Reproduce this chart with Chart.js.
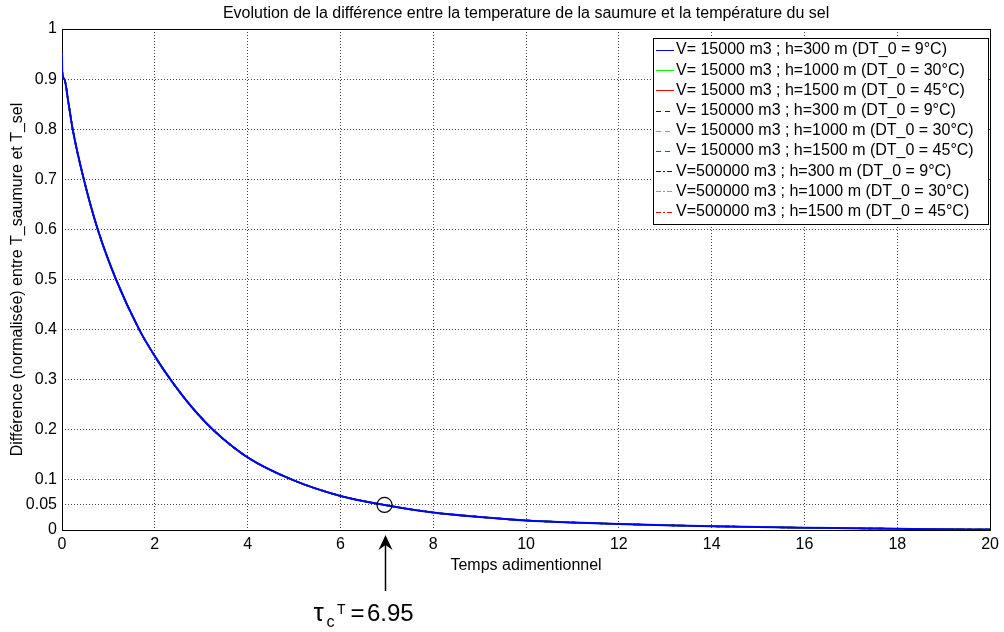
<!DOCTYPE html>
<html>
<head>
<meta charset="utf-8">
<script src="https://cdn.jsdelivr.net/npm/chart.js@4/dist/chart.umd.min.js"></script>
<style>
  html, body { margin: 0; padding: 0; background: #fff; }
  #wrap { width: 1004px; height: 632px; position: relative; }
</style>
</head>
<body>
<div id="wrap"><canvas id="c" width="1004" height="632"></canvas></div>
<script>
// Dimensionless time and normalised brine/salt temperature difference
const tempsAdim = [0, 0.005, 0.05, 0.14, 0.23, 0.47, 0.77, 1.165, 1.665, 2.0, 2.34, 2.8, 3.29, 4.0, 4.97, 6.0, 6.95, 8, 9, 10, 11, 12, 13, 14, 15, 16, 17, 18, 19, 20];
const ecartNorm = [0.952, 0.915, 0.9, 0.852, 0.8, 0.7, 0.6, 0.5, 0.4, 0.347, 0.3, 0.245, 0.197, 0.145, 0.1, 0.068, 0.05, 0.035, 0.026, 0.019, 0.015, 0.012, 0.0095, 0.0075, 0.006, 0.0045, 0.0035, 0.0025, 0.0015, 0.001];

const xTicks = [0, 2, 4, 6, 8, 10, 12, 14, 16, 18, 20];
const yTicks = [0, 0.05, 0.1, 0.2, 0.3, 0.4, 0.5, 0.6, 0.7, 0.8, 0.9, 1];

const serieLabels = [
  'V= 15000 m3 ; h=300 m (DT_0 = 9°C)',
  'V= 15000 m3 ; h=1000 m (DT_0 = 30°C)',
  'V= 15000 m3 ; h=1500 m (DT_0 = 45°C)',
  'V= 150000 m3 ; h=300 m (DT_0 = 9°C)',
  'V= 150000 m3 ; h=1000 m (DT_0 = 30°C)',
  'V= 150000 m3 ; h=1500 m (DT_0 = 45°C)',
  'V=500000 m3 ; h=300 m (DT_0 = 9°C)',
  'V=500000 m3 ; h=1000 m (DT_0 = 30°C)',
  'V=500000 m3 ; h=1500 m (DT_0 = 45°C)'
];
const serieColors = ['#0000ff', '#00ff00', '#ff0000', '#0000ff', '#00ff00', '#ff0000', '#0000ff', '#00ff00', '#ff0000'];
const serieDashes = [[], [], [], [5, 4], [5, 4], [5, 4], [5, 2, 2, 2], [5, 2, 2, 2], [5, 2, 2, 2]];

const tauC = 6.95;
const tauEcart = 0.05;

const titre = 'Evolution de la différence entre la temperature de la saumure et la température du sel';
const titreX = 'Temps adimentionnel';
const titreY = 'Différence (normalisée) entre T_saumure et T_sel';

const FONT = '"Liberation Sans", Arial, sans-serif';

const points = tempsAdim.map((t, i) => ({ x: t, y: ecartNorm[i] }));

const datasets = serieLabels.map((lab, i) => ({
  label: lab,
  data: points,
  borderColor: serieColors[i],
  borderDash: serieDashes[i],
  borderWidth: i === 0 ? 2 : 1.5,
  pointRadius: 0,
  fill: false,
  cubicInterpolationMode: 'monotone'
}));

// legend sample: dashes painted as short rectangles
function sampleLine(ctx, x0, x1, y, color, dash) {
  ctx.fillStyle = color;
  if (!dash.length) { ctx.fillRect(x0, y, x1 - x0, 1); return; }
  let x = x0, k = 0;
  while (x < x1) {
    const len = dash[k % dash.length];
    if (k % 2 === 0) ctx.fillRect(x, y, Math.min(len, x1 - x), 1);
    x += len;
    k++;
  }
}

// Frame, titles, legend box and the tau annotation
const decor = {
  id: 'decor',
  beforeDatasetsDraw(chart) {
    const { ctx, chartArea: a } = chart;
    ctx.save();
    ctx.strokeStyle = '#000';
    ctx.lineWidth = 1;
    ctx.setLineDash([]);
    ctx.strokeRect(Math.round(a.left) + 0.5, Math.round(a.top) + 0.5, Math.round(a.right - a.left), Math.round(a.bottom - a.top));
    ctx.restore();
  },
  afterDraw(chart) {
    const { ctx, chartArea: a, scales } = chart;
    ctx.save();
    ctx.setLineDash([]);
    ctx.fillStyle = '#000';

    // title
    ctx.font = '16px ' + FONT;
    ctx.textAlign = 'center';
    ctx.textBaseline = 'middle';
    ctx.fillText(titre, (a.left + a.right) / 2, 14);

    // x axis title
    ctx.fillText(titreX, (a.left + a.right) / 2, 566);

    // y axis title
    ctx.save();
    ctx.translate(18, (a.top + a.bottom) / 2);
    ctx.rotate(-Math.PI / 2);
    ctx.fillText(titreY, 0, 0);
    ctx.restore();

    // legend
    const lx = 653, ly = 38, lw = 335, lh = 186;
    ctx.fillStyle = '#fff';
    ctx.fillRect(lx, ly, lw, lh);
    ctx.strokeStyle = '#000';
    ctx.lineWidth = 1;
    ctx.strokeRect(lx + 0.5, ly + 0.5, lw, lh);
    ctx.font = '16px ' + FONT;
    ctx.textAlign = 'left';
    ctx.textBaseline = 'middle';
    serieLabels.forEach((lab, i) => {
      const y = 50 + i * 20.2;
      sampleLine(ctx, 656, 674, Math.round(y), serieColors[i], serieDashes[i]);
      ctx.fillStyle = '#000';
      ctx.fillText(lab, 676, y);
    });

    // marker on the curve at tau_c
    const px = scales.x.getPixelForValue(tauC);
    const py = scales.y.getPixelForValue(tauEcart);
    ctx.strokeStyle = '#000';
    ctx.lineWidth = 1.2;
    ctx.beginPath();
    ctx.arc(px, py, 7.5, 0, Math.PI * 2);
    ctx.stroke();

    // arrow pointing up to the axis
    const ax = Math.round(px) + 0.5;
    ctx.lineWidth = 1.5;
    ctx.beginPath();
    ctx.moveTo(ax, 591);
    ctx.lineTo(ax, 545);
    ctx.stroke();
    ctx.fillStyle = '#000';
    ctx.beginPath();
    ctx.moveTo(ax, 535);
    ctx.lineTo(ax - 7, 550);
    ctx.lineTo(ax, 545);
    ctx.lineTo(ax + 7, 550);
    ctx.closePath();
    ctx.fill();

    // tau_c^T = 6.95
    ctx.textAlign = 'left';
    ctx.textBaseline = 'alphabetic';
    ctx.font = '26px ' + FONT;
    ctx.fillText('τ', ax - 72, 621);
    ctx.font = '16px ' + FONT;
    ctx.fillText('c', ax - 59, 627);
    ctx.font = '14px ' + FONT;
    ctx.fillText('T', ax - 48.5, 614);
    ctx.font = '24px ' + FONT;
    ctx.fillText('=', ax - 35, 621);
    ctx.fillText('6.95', ax - 18.5, 621);

    ctx.restore();
  }
};

new Chart(document.getElementById('c'), {
  type: 'line',
  data: { datasets },
  options: {
    responsive: false,
    devicePixelRatio: 1,
    animation: false,
    layout: { padding: { top: 29, left: 0, right: 10, bottom: 72 } },
    plugins: {
      legend: { display: false },
      title: { display: false },
      tooltip: { enabled: false }
    },
    scales: {
      x: {
        type: 'linear',
        min: 0,
        max: 20,
        afterBuildTicks: s => { s.ticks = xTicks.map(v => ({ value: v })); },
        afterFit: s => { s.height = 30; },
        ticks: {
          autoSkip: false,
          maxRotation: 0,
          padding: 5,
          color: '#000',
          font: { family: FONT, size: 16 },
          callback: v => String(v)
        },
        grid: { color: '#444', lineWidth: 1, drawTicks: false },
        border: { display: false, dash: [1, 2] }
      },
      y: {
        type: 'linear',
        min: 0,
        max: 1,
        afterBuildTicks: s => { s.ticks = yTicks.map(v => ({ value: v })); },
        afterFit: s => { s.width = 62; },
        ticks: {
          autoSkip: false,
          padding: 5,
          color: '#000',
          font: { family: FONT, size: 16 },
          callback: v => String(v)
        },
        grid: { color: '#444', lineWidth: 1, drawTicks: false },
        border: { display: false, dash: [1, 2] }
      }
    }
  },
  plugins: [decor]
});
</script>
</body>
</html>
